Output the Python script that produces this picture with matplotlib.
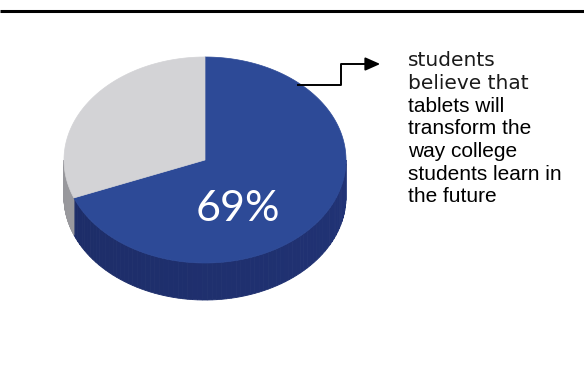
import numpy as np
import matplotlib
matplotlib.use("Agg")
import matplotlib.pyplot as plt
from matplotlib.patches import Polygon

# ---- data ----
categories = ["Agree", "Other"]
values = [69, 31]
label_text = "69%"
caption_lines_a = ["students", "believe that"]
caption_lines_b = ["tablets will", "transform the", "way college", "students learn in", "the future"]

top_colors = ["#2D4A97", "#D3D3D6"]
side_colors = ["#1F306F", "#A4A4A9"]

W, H = 584, 378
fig = plt.figure(figsize=(W / 100, H / 100), dpi=100)
ax = fig.add_axes([0, 0, 1, 1])
ax.set_xlim(0, W)
ax.set_ylim(H, 0)
ax.axis("off")

# header rule
ax.plot([0, W], [10.5, 10.5], color="black", lw=2.2, solid_capstyle="butt")

# ---- 3D pie geometry ----
cx, cy = 205, 160
rx, ry = 141, 103
depth = 37
start = 90.0
total = float(sum(values))

def ell(theta_deg, dy=0.0):
    t = np.radians(theta_deg)
    return cx + rx * np.cos(t), cy - ry * np.sin(t) + dy

# wedges go clockwise (decreasing theta) from top
spans = []
a = start
for v in values:
    sweep = v / total * 360.0
    spans.append((a - sweep, a))
    a -= sweep

# sides (front visible half: theta in [180, 360])
for (lo, hi), sc in zip(spans, side_colors):
    for shift in (0, 360, -360):
        l, h = lo + shift, hi + shift
        s0, s1 = max(l, 180), min(h, 360)
        if s1 > s0:
            n = 80
            edges = np.linspace(s0, s1, n + 1)
            base = np.array(matplotlib.colors.to_rgb(sc))
            for i in range(n):
                t0, t1 = edges[i], edges[i + 1]
                tt = np.linspace(t0, t1, 4)
                xs, ys = ell(tt)
                xb, yb = ell(tt[::-1], depth)
                pts = np.column_stack([np.r_[xs, xb], np.r_[ys, yb]])
                f = 0.92 + 0.14 * ((0.5 * (t0 + t1) - 180) / 180)
                col = np.clip(base * f, 0, 1)
                ax.add_patch(Polygon(pts, closed=True, facecolor=col, edgecolor=col, lw=0.6))

# top faces
for (lo, hi), tc in zip(spans, top_colors):
    tt = np.linspace(lo, hi, 200)
    xs, ys = ell(tt)
    pts = np.column_stack([np.r_[cx, xs], np.r_[cy, ys]])
    ax.add_patch(Polygon(pts, closed=True, facecolor=tc, edgecolor=tc, lw=0.5))

# value label
ax.text(238, 209, label_text, color="white", fontsize=31, family="Lato",
        ha="center", va="center")

# connector arrow
ax.plot([298, 341, 341, 370], [85, 85, 64, 64], color="black", lw=1.4)
ax.annotate("", xy=(383, 64), xytext=(366, 64),
            arrowprops=dict(arrowstyle="-|>,head_length=0.9,head_width=0.4",
                            color="black", lw=1.4))

# caption
y0 = 61
dy = 22.6
for i, line in enumerate(caption_lines_a):
    ax.text(408, y0 + i * dy, line, fontsize=14.5, family="DejaVu Sans",
            color="#1a1a1a", va="center", ha="left")
for j, line in enumerate(caption_lines_b):
    ax.text(408, y0 + (j + 2) * dy, line, fontsize=15, family="Liberation Sans",
            color="black", va="center", ha="left")

fig.savefig("out.png", dpi=100)
